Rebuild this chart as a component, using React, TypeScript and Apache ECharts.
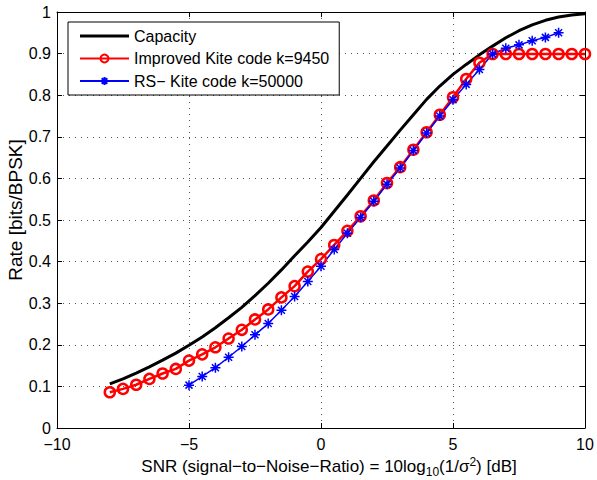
import React, { useEffect, useRef } from "react";
import * as echarts from "echarts";

const capX = [-8, -7.5, -7, -6.5, -6, -5.5, -5, -4.5, -4, -3.5, -3, -2.5, -2, -1.5, -1, -0.5, 0, 0.5, 1, 1.5, 2, 2.5, 3, 3.5, 4, 4.5, 5, 5.5, 6, 6.5, 7, 7.5, 8, 8.5, 9, 9.5, 10];
const capacity = [0.106, 0.118, 0.132, 0.147, 0.163, 0.18, 0.199, 0.219, 0.241, 0.265, 0.29, 0.318, 0.348, 0.38, 0.414, 0.447, 0.482, 0.521, 0.56, 0.6, 0.64, 0.678, 0.716, 0.753, 0.79, 0.822, 0.85, 0.874, 0.897, 0.918, 0.938, 0.955, 0.969, 0.98, 0.988, 0.993, 0.996];

const kiteX = [-8, -7.5, -7, -6.5, -6, -5.5, -5, -4.5, -4, -3.5, -3, -2.5, -2, -1.5, -1, -0.5, 0, 0.5, 1, 1.5, 2, 2.5, 3, 3.5, 4, 4.5, 5, 5.5, 6, 6.5, 7, 7.5, 8, 8.5, 9, 9.5, 10];
const kiteRate = [0.086, 0.094, 0.104, 0.118, 0.131, 0.142, 0.162, 0.177, 0.194, 0.215, 0.236, 0.261, 0.285, 0.314, 0.341, 0.376, 0.406, 0.44, 0.474, 0.509, 0.547, 0.589, 0.627, 0.669, 0.711, 0.753, 0.795, 0.839, 0.878, 0.899, 0.899, 0.899, 0.899, 0.899, 0.899, 0.899, 0.899];

const rsX = [-5, -4.5, -4, -3.5, -3, -2.5, -2, -1.5, -1, -0.5, 0, 0.5, 1, 1.5, 2, 2.5, 3, 3.5, 4, 4.5, 5, 5.5, 6, 6.5, 7, 7.5, 8, 8.5, 9];
const rsRate = [0.103, 0.124, 0.145, 0.17, 0.196, 0.224, 0.251, 0.283, 0.316, 0.352, 0.389, 0.429, 0.468, 0.506, 0.545, 0.586, 0.625, 0.667, 0.709, 0.75, 0.789, 0.826, 0.862, 0.899, 0.913, 0.921, 0.931, 0.939, 0.95];

const seriesNames = ["Capacity", "Improved Kite code k=9450", "RS\u2212 Kite code k=50000"];
const xTicks = { min: -10, max: 10, interval: 5 };
const yTicks = { min: 0, max: 1, interval: 0.1 };

const FONT = "'Liberation Sans', Arial, Helvetica, sans-serif";

const zip = (xs: number[], ys: number[]) => xs.map((x, i) => [x, ys[i]]);
const fmtX = (v: number) => (v < 0 ? "\u2212" + Math.abs(v) : String(v));
const fmtY = (v: number) => String(Math.round(v * 10) / 10);

const star = "path://M5,0L5,10M0,5L10,5M1.5,1.5L8.5,8.5M1.5,8.5L8.5,1.5";
const flatIcon = "path://M0,0L49,0L49,0.01L0,0.01Z M0,3.5L49,3.5L49,6.5L0,6.5Z M0,9.99L49,9.99L49,10L0,10Z";

export default function App() {
  const ref = useRef<HTMLDivElement>(null);
  useEffect(() => {
    if (!ref.current) return;
    const chart = echarts.init(ref.current, null, { renderer: "svg" });
    const axisLine = { show: true, onZero: false, lineStyle: { color: "#000", width: 1 } };
    const tick = { show: true, inside: true, length: 5, lineStyle: { color: "#000" } };
    const split = { show: true, lineStyle: { color: "#555", type: [1, 5], width: 1 } };
    chart.setOption({
      animation: false,
      backgroundColor: "#fff",
      textStyle: { fontFamily: FONT },
      grid: { left: 57, right: 12, top: 12, bottom: 52, containLabel: false },
      legend: {
        orient: "vertical",
        left: 68,
        top: 22,
        itemWidth: 49,
        itemHeight: 10,
        itemGap: 6.5,
        padding: [6, 10, 6, 11],
        borderColor: "#000",
        borderWidth: 1,
        borderRadius: 0,
        backgroundColor: "#fff",
        textStyle: { fontSize: 16, color: "#000", fontFamily: FONT, lineHeight: 16 },
        data: [
          { name: seriesNames[0], icon: flatIcon },
          { name: seriesNames[1] },
          { name: seriesNames[2] },
        ],
      },
      xAxis: [
        {
          type: "value", ...xTicks, position: "bottom",
          axisLine, axisTick: tick, splitLine: split,
          axisLabel: { fontSize: 16, color: "#000", margin: 8, formatter: fmtX, fontFamily: FONT },
        },
        {
          type: "value", ...xTicks, position: "top",
          axisLine, axisTick: tick, splitLine: { show: false }, axisLabel: { show: false },
        },
      ],
      yAxis: [
        {
          type: "value", ...yTicks, position: "left",
          axisLine, axisTick: tick, splitLine: split,
          axisLabel: { fontSize: 16, color: "#000", margin: 6, formatter: fmtY, fontFamily: FONT },
        },
        {
          type: "value", ...yTicks, position: "right",
          axisLine, axisTick: tick, splitLine: { show: false }, axisLabel: { show: false },
        },
      ],
      series: [
        {
          name: seriesNames[0], type: "line", data: zip(capX, capacity),
          symbol: "none", smooth: false,
          lineStyle: { color: "#000", width: 3 }, itemStyle: { color: "#000" },
        },
        {
          name: seriesNames[1], type: "line", data: zip(kiteX, kiteRate),
          symbol: "circle", symbolSize: 10,
          lineStyle: { color: "#f00", width: 2.5 },
          itemStyle: { color: "rgba(255,255,255,0)", borderColor: "#f00", borderWidth: 2.5 },
        },
        {
          name: seriesNames[2], type: "line", data: zip(rsX, rsRate),
          symbol: star, symbolSize: 10,
          lineStyle: { color: "#00f", width: 1.5 },
          itemStyle: { color: "#00f", borderColor: "#00f", borderWidth: 1.5 },
        },
      ],
      graphic: [
        {
          type: "text", x: 15, y: 210, rotation: Math.PI / 2,
          style: { text: "Rate [bits/BPSK]", fontSize: 19, fontFamily: FONT, fill: "#000", align: "center", verticalAlign: "middle" },
        },
        {
          type: "text", x: 329, y: 466,
          style: {
            text: "SNR (signal\u2212to\u2212Noise\u2212Ratio) = 10log{sub|10}(1/\u03c3{sup|2}) [dB]",
            fontSize: 17, fontFamily: FONT, fill: "#000", align: "center", verticalAlign: "middle",
            rich: {
              sub: { fontSize: 12, fontFamily: FONT, fill: "#000", padding: [12, 0, 0, 0] },
              sup: { fontSize: 12, fontFamily: FONT, fill: "#000", padding: [0, 0, 8, 0] },
            },
          },
        },
      ],
    });
    return () => chart.dispose();
  }, []);
  return <div ref={ref} style={{ position: "fixed", left: 0, top: 0, width: 597, height: 480 }} />;
}
